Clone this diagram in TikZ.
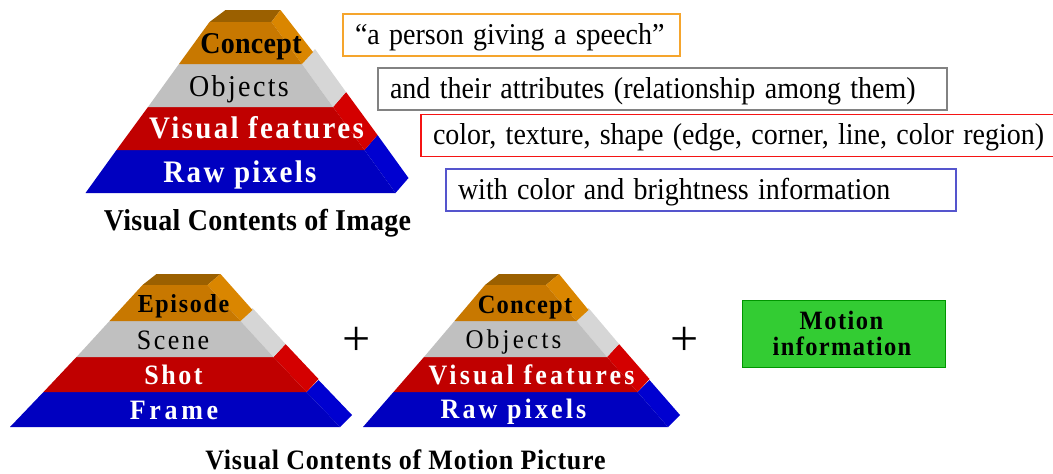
\documentclass[tikz,border=0pt]{standalone}
\usepackage{fontspec}
\setmainfont{Liberation Serif}

% layer colours
\definecolor{capfront}{RGB}{200,120,0}
\definecolor{capside}{RGB}{218,134,0}
\definecolor{captop}{RGB}{155,96,0}
\definecolor{objfront}{RGB}{192,192,192}
\definecolor{objside}{RGB}{214,214,214}
\definecolor{featfront}{RGB}{192,0,0}
\definecolor{featside}{RGB}{212,0,0}
\definecolor{pixfront}{RGB}{0,0,192}
\definecolor{pixside}{RGB}{0,0,208}
% description box colours
\definecolor{boxorange}{RGB}{245,165,45}
\definecolor{boxgray}{RGB}{130,130,130}
\definecolor{boxred}{RGB}{245,20,20}
\definecolor{boxblue}{RGB}{85,85,205}
\definecolor{motionfill}{RGB}{51,204,51}
\definecolor{motionedge}{RGB}{0,150,0}

\newcommand\fs[1]{\fontsize{#1}{#1}\selectfont}
\newcommand\trk[1]{\addfontfeature{LetterSpace=#1}}
% slightly taller lettering
\newcommand\tall[1]{\scalebox{1}[1.08]{#1}}

% one slab of a pyramid: centre x, bottom y, top y, half width at bottom,
% half width at top, depth dx, depth dy, front colour, side colour
\newcommand\slab[9]{%
  \fill[#9] ({#1+#5},#3) -- ({#1+#4},#2) -- ({#1+#4+#6},{#2+#7}) -- ({#1+#5+#6},{#3+#7}) -- cycle;
  \fill[#8] ({#1-#4},#2) -- ({#1+#4},#2) -- ({#1+#5},#3) -- ({#1-#5},#3) -- cycle;}
% the top slab with its lid: ..., depth dx, depth dy, lid back-left dx, lid back-right dx
\newcommand\capslab[9]{%
  \fill[captop] ({#1-#5},#3) -- ({#1+#5},#3) -- ({#1+#5+#9},{#3+#7}) -- ({#1-#5+#8},{#3+#7}) -- cycle;
  \fill[capside] ({#1+#5},#3) -- ({#1+#4},#2) -- ({#1+#4+#6},{#2+#7}) -- ({#1+#5+#9},{#3+#7}) -- cycle;
  \fill[capfront] ({#1-#4},#2) -- ({#1+#4},#2) -- ({#1+#5},#3) -- ({#1-#5},#3) -- cycle;}

\tikzset{
  lbl/.style={anchor=base, inner sep=0pt, outer sep=0pt},
  descbox/.style={draw, line width=1.3pt, anchor=west, inner xsep=12pt, inner ysep=8pt,
    outer sep=0pt, text height=22pt, text depth=4pt, align=left, font=\fs{28}},
  plus/.style={inner sep=0pt, font=\fs{50}},
}

\begin{document}
\begin{tikzpicture}[x=1pt, y=-1pt]
\useasboundingbox (0,0) rectangle (1053,474);

% ---- pyramid: visual contents of an image ----
\slab{240.5}{193}{150}{155}{124}{13}{-15}{pixfront}{pixside}
\slab{240.5}{150}{107}{124}{92.5}{13}{-15}{featfront}{featside}
\slab{240.5}{107}{64}{92.5}{61.5}{13}{-15}{objfront}{objside}
\capslab{240.5}{64}{22}{61.5}{31}{11}{-12}{16}{9}
\node[lbl, font={\fs{28}\bfseries\trk{1}}] (t-concept) at (251,53) {\tall{Concept}};
\node[lbl, font={\fs{28}\trk{8.5}}] (t-objects) at (239,96) {\tall{Objects}};
\node[lbl, font={\fs{29}\bfseries\trk{8}}, text=white] (t-features) at (256.5,138.5) {\tall{Visual features}};
\node[lbl, font={\fs{29}\bfseries\trk{8}}, text=white] (t-pixels) at (240,182.5) {\tall{Raw pixels}};
\node[lbl, font={\fs{28}\bfseries\trk{1}}] (t-caption) at (257.5,230) {\tall{Visual Contents of Image}};

% ---- descriptions of the levels ----
\node[descbox, draw=boxorange, text width=313pt] (d-concept) at (343,35) {\tall{“a person giving a speech”}};
\node[descbox, draw=boxgray, text width=545pt] (d-objects) at (378,89) {\tall{and their attributes (relationship among them)}};
\node[descbox, draw=boxred, text width=660pt] (d-features) at (421,135.5) {\tall{color, texture, shape (edge, corner, line, color region)}};
\node[descbox, draw=boxblue, text width=486pt] (d-pixels) at (446,190) {\tall{with color and brightness information}};

% ---- pyramid: episode / scene / shot / frame ----
\slab{175}{427}{392}{165}{131.5}{12}{-12}{pixfront}{pixside}
\slab{175}{392}{357}{131.5}{98.5}{12}{-13}{featfront}{featside}
\slab{175}{357}{321}{98.5}{65.5}{12}{-13}{objfront}{objside}
\capslab{175}{321}{285}{65.5}{32.5}{12}{-11}{14}{13}
\node[lbl, font={\fs{24}\bfseries\trk{7}}] (e-episode) at (183.5,312.5) {\tall{Episode}};
\node[lbl, font={\fs{26}\trk{10}}] (e-scene) at (173,349) {\tall{Scene}};
\node[lbl, font={\fs{26}\bfseries\trk{10}}, text=white] (e-shot) at (173.5,384) {\tall{Shot}};
\node[lbl, font={\fs{26}\bfseries\trk{14}}, text=white] (e-frame) at (174,419) {\tall{Frame}};

\node[plus] (plus1) at (356.5,341.5) {+};

% ---- pyramid: image contents inside the motion picture ----
\slab{515.5}{427}{392}{152.5}{122}{12}{-12}{pixfront}{pixside}
\slab{515.5}{392}{357}{122}{91.5}{12}{-13}{featfront}{featside}
\slab{515.5}{357}{321}{91.5}{61}{12}{-13}{objfront}{objside}
\capslab{515.5}{321}{285}{61}{30.5}{12}{-11}{14}{13}
\node[lbl, font={\fs{24.5}\bfseries\trk{5}}] (m-concept) at (525,313) {\tall{Concept}};
\node[lbl, font={\fs{25}\trk{13}}] (m-objects) at (513.5,348) {\tall{Objects}};
\node[lbl, font={\fs{26}\bfseries\trk{12}}, text=white] (m-features) at (531.5,384) {\tall{Visual features}};
\node[lbl, font={\fs{26}\bfseries\trk{12}}, text=white] (m-pixels) at (513.5,418) {\tall{Raw pixels}};

\node[plus] (plus2) at (685,341.5) {+};

% ---- motion information ----
\node[draw=motionedge, fill=motionfill, line width=1pt, minimum width=203pt, minimum height=67pt,
      inner sep=0pt, outer sep=0pt] (motion) at (843.5,333.5) {};
\node[lbl, font={\fs{24.5}\bfseries\trk{6}}] (motion-1) at (841.5,329) {\tall{Motion}};
\node[lbl, font={\fs{24.5}\bfseries\trk{5.5}}] (motion-2) at (842,355) {\tall{information}};

\node[lbl, font={\fs{26}\bfseries\trk{3}}] (m-caption) at (405.5,469) {\tall{Visual Contents of Motion Picture}};
\end{tikzpicture}
\end{document}
